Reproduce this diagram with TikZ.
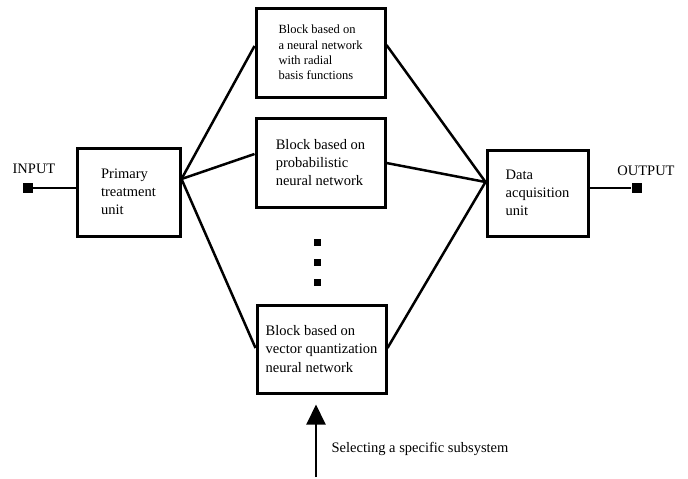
\documentclass[tikz,border=0pt]{standalone}
\usepackage{fontspec}
\setmainfont{Liberation Serif}
\usetikzlibrary{arrows.meta,calc}
\tikzset{
  blockbox/.style={draw, line width=3pt, inner sep=0pt, align=left,
    font=\fontsize{14.5}{18.2}\selectfont},
  term/.style={fill=black, minimum size=10pt, inner sep=0pt},
  dotsq/.style={fill=black, minimum size=7pt, inner sep=0pt},
  conn/.style={line width=2.5pt},
  lbl/.style={inner sep=0pt, font=\fontsize{14.5}{18}\selectfont}
}
\begin{document}
\begin{tikzpicture}[x=1pt,y=-1pt]
\useasboundingbox (0,0) rectangle (688,479);
% boxes
\node[blockbox, minimum width=103pt, minimum height=88pt] (prim) at (128.5,192) {Primary\\treatment\\unit};
\node[blockbox, minimum width=129pt, minimum height=89pt, font=\fontsize{12.5}{15.2}\selectfont] (b1) at (320.5,52.5) {Block based on\\a neural network\\with radial\\basis functions};
\node[blockbox, minimum width=129pt, minimum height=89pt] (b2) at (320.5,162.5) {Block based on\\probabilistic\\neural network};
\node[blockbox, minimum width=129pt, minimum height=88pt] (b3) at (321.5,349) {Block based on\\vector quantization\\neural network};
\node[blockbox, minimum width=101pt, minimum height=86pt] (data) at (537.5,193) {Data\\acquisition\\unit};
% terminals
\node[term] (inp) at (28,188) {};
\node[term] (outp) at (636.5,188) {};
\node[lbl] (inlbl) at (34,169) {INPUT};
\node[lbl] (outlbl) at (646,171) {OUTPUT};
\draw[conn] (inp.east) -- (inp.east -| prim.west);
\draw[conn] (data.east |- outp) -- (outp.west);
% contact points
\coordinate (cL) at ($(prim.east)+(0,-13)$);
\coordinate (cR) at ($(data.west)+(0,-11)$);
\draw[conn] (cL) -- ($(b1.west)+(0,-6.5)$);
\draw[conn] (cL) -- ($(b2.west)+(0,-8.5)$);
\draw[conn] (cL) -- ($(b3.west)+(0,-1)$);
\draw[conn] ($(b1.east)+(0,-7.5)$) -- (cR);
\draw[conn] ($(b2.east)+(0,0.5)$) -- (cR);
\draw[conn] ($(b3.east)+(0,-1)$) -- (cR);
% dots
\node[dotsq] (d1) at (317,242) {};
\node[dotsq] (d2) at (317,262) {};
\node[dotsq] (d3) at (317,282) {};
% selection arrow
\coordinate (abot) at (316,477);
\draw[line width=2pt, -{Triangle[length=20pt,width=19pt]}, shorten >=10pt] (abot) -- (abot |- b3.south);
\node[lbl] (sel) at (420,449) {Selecting a specific subsystem};
\end{tikzpicture}
\end{document}
